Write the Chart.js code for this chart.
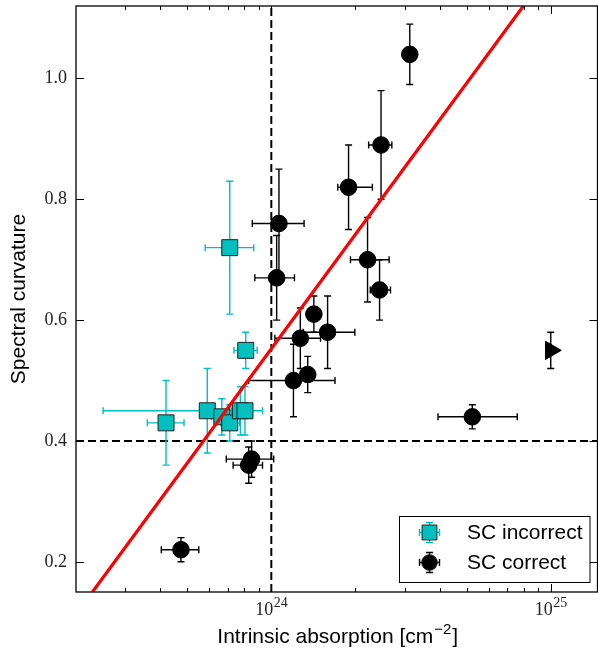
<!DOCTYPE html>
<html>
<head>
<meta charset="utf-8">
<script src="https://cdn.jsdelivr.net/npm/chart.js@4.4.1/dist/chart.umd.min.js"></script>
<style>
  html, body { margin: 0; padding: 0; background: #fff; }
  #wrap { width: 598px; height: 649px; position: relative; }
</style>
</head>
<body>
<div id="wrap"><canvas id="myChart"></canvas></div>
<script>
// SC incorrect sources: column density, curvature and their error ranges
const incorrectNH   = [7.1e23, 8.1e23, 4.2e23, 5.9e23, 6.65e23, 7.1e23, 7.75e23, 8.05e23];
const incorrectSC   = [0.72, 0.55, 0.43, 0.45, 0.44, 0.43, 0.45, 0.45];
const incorrectNHLo = [5.8e23, 7.35e23, 3.6e23, 2.5e23, 6.1e23, 6.6e23, 7.2e23, 7.4e23];
const incorrectNHHi = [8.65e23, 8.9e23, 4.87e23, 7.4e23, 7.3e23, 7.7e23, 8.4e23, 9.3e23];
const incorrectSCErr = [0.11, 0.03, 0.07, 0.07, 0.03, 0.03, 0.04, 0.04];

// SC correct sources
const correctNH   = [1.065e24, 1.045e24, 1.89e24, 2.47e24, 3.13e24, 2.21e24, 2.44e24, 1.42e24,
                     1.59e24, 1.27e24, 1.20e24, 1.35e24, 8.5e23, 8.3e23, 4.75e23, 5.24e24];
const correctSC   = [0.76, 0.67, 0.82, 0.89, 1.04, 0.70, 0.65, 0.61,
                     0.58, 0.57, 0.50, 0.51, 0.37, 0.36, 0.22, 0.44];
const correctNHLo = [8.55e23, 8.73e23, 1.73e24, 2.23e24, 3.13e24, 1.92e24, 2.26e24, 1.42e24,
                     1.30e24, 1.03e24, 8.3e23, 1.35e24, 6.9e23, 7.3e23, 4.04e23, 3.95e24];
const correctNHHi = [1.31e24, 1.21e24, 2.30e24, 2.70e24, 3.13e24, 2.64e24, 2.67e24, 1.42e24,
                     1.99e24, 1.50e24, 1.69e24, 1.35e24, 1.02e24, 9.3e23, 5.5e23, 7.59e24];
const correctSCErr = [0.09, 0.07, 0.07, 0.09, 0.05, 0.07, 0.05, 0.03,
                      0.06, 0.05, 0.06, 0.03, 0.03, 0.03, 0.02, 0.02];

// lower limit on NH (drawn as a right-pointing triangle)
const limitNH = [1e25];
const limitSC = [0.55];
const limitSCErr = [0.03];

// fitted relation, end points
const fitNH = [2.29e23, 7.98e24];
const fitSC = [0.15, 1.12];

// Compton-thick and curvature thresholds
const nhCut = 1e24;
const scCut = 0.4;

const xRange = [2e23, 1.47e25];
const yRange = [0.15, 1.12];
const yTicks = [0.2, 0.4, 0.6, 0.8, 1.0];
const xMajorTicks = [1e24, 1e25];
const xMinorTicks = [3e23, 4e23, 5e23, 6e23, 7e23, 8e23, 9e23,
                     2e24, 3e24, 4e24, 5e24, 6e24, 7e24, 8e24, 9e24];
const xExponents = ['24', '25'];

const legendLabels = ['SC incorrect', 'SC correct'];

const CYAN = '#00bfbf';
const SANS = '"Liberation Sans"';
const SERIF = '"Liberation Serif"';

function points(xs, ys) {
  return xs.map((v, i) => ({ x: v, y: ys[i] }));
}

// error bars under each dataset's markers
const errorBars = {
  id: 'errorBars',
  beforeDatasetDraw(chart, args) {
    const ds = chart.data.datasets[args.index];
    if (!ds.errY) return;
    const { ctx, scales: { x, y } } = chart;
    const cap = 3.5;
    ctx.save();
    ctx.strokeStyle = ds.errColor;
    ctx.lineWidth = 1.4;
    ds.data.forEach((p, i) => {
      const px = x.getPixelForValue(p.x);
      const py = y.getPixelForValue(p.y);
      const yT = y.getPixelForValue(p.y + ds.errY[i]);
      const yB = y.getPixelForValue(p.y - ds.errY[i]);
      ctx.beginPath();
      ctx.moveTo(px, yT); ctx.lineTo(px, yB);
      ctx.moveTo(px - cap, yT); ctx.lineTo(px + cap, yT);
      ctx.moveTo(px - cap, yB); ctx.lineTo(px + cap, yB);
      if (ds.errXLo && ds.errXLo[i] < ds.errXHi[i]) {
        const xL = x.getPixelForValue(ds.errXLo[i]);
        const xR = x.getPixelForValue(ds.errXHi[i]);
        ctx.moveTo(xL, py); ctx.lineTo(xR, py);
        ctx.moveTo(xL, py - cap); ctx.lineTo(xL, py + cap);
        ctx.moveTo(xR, py - cap); ctx.lineTo(xR, py + cap);
      }
      ctx.stroke();
    });
    ctx.restore();
  }
};

// box, inward ticks, x labels with exponents, x title, legend
const frame = {
  id: 'frame',
  afterDraw(chart) {
    const { ctx, chartArea: a, scales: { x, y } } = chart;
    ctx.save();
    ctx.strokeStyle = '#000';
    ctx.lineWidth = 1.3;
    ctx.strokeRect(a.left, a.top, a.right - a.left, a.bottom - a.top);

    ctx.lineWidth = 1;
    ctx.beginPath();
    xMajorTicks.concat(xMinorTicks).forEach(v => {
      const len = xMajorTicks.includes(v) ? 8 : 4;
      const px = Math.round(x.getPixelForValue(v)) + 0.5;
      ctx.moveTo(px, a.bottom); ctx.lineTo(px, a.bottom - len);
      ctx.moveTo(px, a.top); ctx.lineTo(px, a.top + len);
    });
    yTicks.forEach(v => {
      const py = Math.round(y.getPixelForValue(v)) + 0.5;
      ctx.moveTo(a.left, py); ctx.lineTo(a.left + 8, py);
      ctx.moveTo(a.right, py); ctx.lineTo(a.right - 8, py);
    });
    ctx.stroke();

    // 10^n labels
    ctx.fillStyle = '#222';
    ctx.textBaseline = 'alphabetic';
    ctx.textAlign = 'left';
    xMajorTicks.forEach((v, i) => {
      const px = x.getPixelForValue(v);
      ctx.font = '18px ' + SERIF;
      const wBase = ctx.measureText('10').width;
      ctx.font = '14px ' + SERIF;
      const wExp = ctx.measureText(xExponents[i]).width;
      const x0 = px - (wBase + wExp) / 2;
      ctx.font = '18px ' + SERIF;
      ctx.fillText('10', x0, 615);
      ctx.font = '14px ' + SERIF;
      ctx.fillText(xExponents[i], x0 + wBase + 0.5, 607);
    });

    // x title with superscript
    ctx.fillStyle = '#000';
    const t1 = 'Intrinsic absorption [cm', t2 = '\u22122', t3 = ']';
    ctx.font = '21px ' + SANS;
    const w1 = ctx.measureText(t1).width, w3 = ctx.measureText(t3).width;
    ctx.font = '15px ' + SANS;
    const w2 = ctx.measureText(t2).width;
    const tx = (a.left + a.right) / 2 - (w1 + w2 + w3) / 2;
    ctx.font = '21px ' + SANS;
    ctx.fillText(t1, tx, 643);
    ctx.font = '15px ' + SANS;
    ctx.fillText(t2, tx + w1 + 1, 634);
    ctx.font = '21px ' + SANS;
    ctx.fillText(t3, tx + w1 + w2 + 2, 643);

    // legend
    const bx = 399.5, by = 516.5, bw = 190.5, bh = 66;
    ctx.fillStyle = '#fff';
    ctx.fillRect(bx, by, bw, bh);
    ctx.strokeStyle = '#000';
    ctx.lineWidth = 1;
    ctx.strokeRect(bx, by, bw, bh);
    const rows = [
      { y: 532.5, color: CYAN, style: 'rect', r: 10.5 },
      { y: 562.5, color: '#000', style: 'circle', r: 7.8 }
    ];
    rows.forEach((row, i) => {
      const cx = 429.5, cy = row.y, e = 10, cap = 3.5;
      ctx.strokeStyle = row.color;
      ctx.lineWidth = 1.4;
      ctx.beginPath();
      ctx.moveTo(cx, cy - e); ctx.lineTo(cx, cy + e);
      ctx.moveTo(cx - cap, cy - e); ctx.lineTo(cx + cap, cy - e);
      ctx.moveTo(cx - cap, cy + e); ctx.lineTo(cx + cap, cy + e);
      ctx.moveTo(cx - e, cy); ctx.lineTo(cx + e, cy);
      ctx.moveTo(cx - e, cy - cap); ctx.lineTo(cx - e, cy + cap);
      ctx.moveTo(cx + e, cy - cap); ctx.lineTo(cx + e, cy + cap);
      ctx.stroke();
      ctx.fillStyle = row.color;
      ctx.strokeStyle = '#222';
      ctx.lineWidth = 1;
      Chart.helpers.drawPoint(ctx, { pointStyle: row.style, radius: row.r, borderWidth: 1 }, cx, cy);
      ctx.fillStyle = '#000';
      ctx.font = '21px ' + SANS;
      ctx.textBaseline = 'middle';
      ctx.fillText(legendLabels[i], 467, cy + 1);
    });
    ctx.restore();
  }
};

const ctx = document.getElementById('myChart').getContext('2d');
const myChart = new Chart(ctx, {
  type: 'scatter',
  data: {
    datasets: [
      {
        label: 'fit',
        data: points(fitNH, fitSC),
        showLine: true,
        borderColor: '#ff0000',
        borderWidth: 3.2,
        pointRadius: 0,
        order: 0
      },
      {
        label: legendLabels[0],
        data: points(incorrectNH, incorrectSC),
        errY: incorrectSCErr,
        errXLo: incorrectNHLo,
        errXHi: incorrectNHHi,
        errColor: CYAN,
        pointStyle: 'rect',
        pointRadius: 11.3,
        backgroundColor: CYAN,
        borderColor: '#222',
        borderWidth: 1,
        order: 1
      },
      {
        label: legendLabels[1],
        data: points(correctNH, correctSC),
        errY: correctSCErr,
        errXLo: correctNHLo,
        errXHi: correctNHHi,
        errColor: '#000',
        pointStyle: 'circle',
        pointRadius: 8.3,
        backgroundColor: '#000',
        borderColor: '#000',
        borderWidth: 1,
        order: 2
      },
      {
        label: 'limit',
        data: points(limitNH, limitSC),
        errY: limitSCErr,
        errColor: '#000',
        pointStyle: 'triangle',
        rotation: 90,
        pointRadius: 10.5,
        backgroundColor: '#000',
        borderColor: '#000',
        borderWidth: 1,
        order: 2
      },
      {
        label: 'NH cut',
        data: points([nhCut, nhCut], yRange),
        showLine: true,
        borderColor: '#000',
        borderWidth: 2,
        borderDash: [8, 4],
        pointRadius: 0,
        order: 3
      },
      {
        label: 'SC cut',
        data: points(xRange, [scCut, scCut]),
        showLine: true,
        borderColor: '#000',
        borderWidth: 2,
        borderDash: [8, 4],
        pointRadius: 0,
        order: 3
      }
    ]
  },
  options: {
    responsive: true,
    maintainAspectRatio: false,
    animation: false,
    events: [],
    layout: { autoPadding: false, padding: { top: 6, right: 0.5, left: 0, bottom: 0 } },
    plugins: {
      legend: { display: false },
      tooltip: { enabled: false }
    },
    scales: {
      x: {
        type: 'logarithmic',
        min: xRange[0],
        max: xRange[1],
        grid: { display: false, drawTicks: false },
        border: { display: false },
        ticks: { display: false },
        afterFit: s => { s.height = 57; }
      },
      y: {
        type: 'linear',
        min: yRange[0],
        max: yRange[1],
        grid: { display: false, drawTicks: false },
        border: { display: false },
        afterBuildTicks: s => { s.ticks = yTicks.map(v => ({ value: v })); },
        ticks: {
          padding: 9,
          color: '#222',
          font: { family: 'Liberation Serif', size: 18 },
          callback: v => v.toFixed(1)
        },
        title: {
          display: true,
          text: 'Spectral curvature',
          color: '#000',
          font: { family: 'Liberation Sans', size: 21 },
          padding: { top: 7, bottom: 0 }
        },
        afterFit: s => { s.width = 76; s.paddingTop = 0; s.paddingBottom = 0; }
      }
    }
  },
  plugins: [errorBars, frame]
});
</script>
</body>
</html>
